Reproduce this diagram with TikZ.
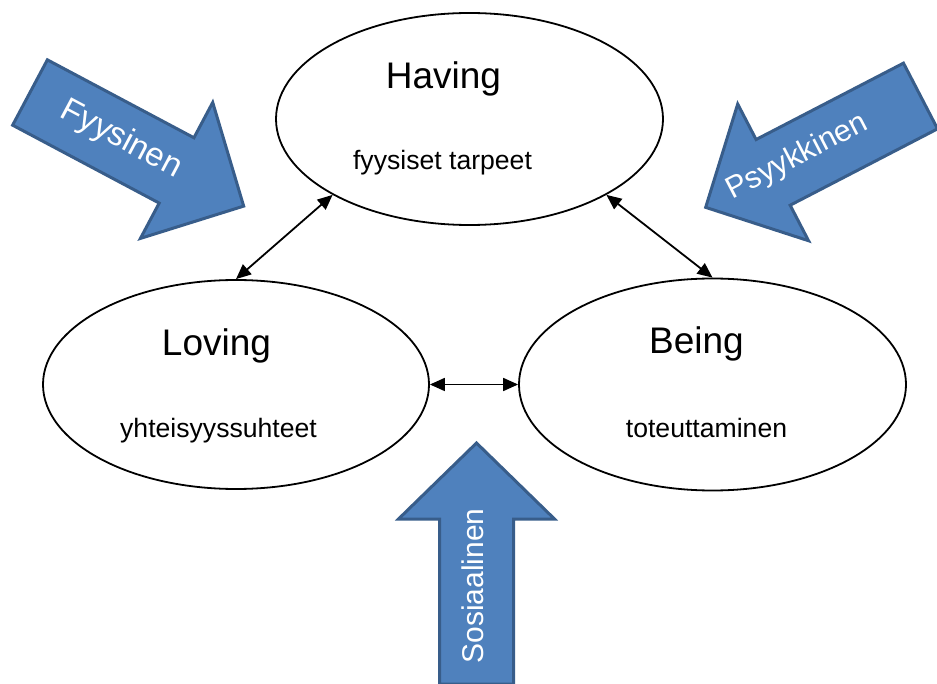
\documentclass[tikz,border=0pt]{standalone}
\usepackage{fontspec}
\setmainfont{Liberation Sans}
\usetikzlibrary{shapes.geometric,arrows.meta}
\definecolor{afill}{HTML}{4F81BD}
\definecolor{aline}{HTML}{385D8A}
\begin{document}
\begin{tikzpicture}[x=1pt,y=-1pt,
  oval/.style={ellipse,draw=black,line width=1.8pt,inner sep=0pt},
  title/.style={anchor=base,inner sep=0pt,font=\fontsize{37}{40}\selectfont},
  sub/.style={anchor=base,inner sep=0pt,font=\fontsize{26.6}{30}\selectfont},
  link/.style={line width=1.8pt,{Triangle[length=15pt,width=13pt]}-{Triangle[length=15pt,width=13pt]}},
  blk/.style={fill=afill,draw=aline,line width=3pt,line join=miter},
  blklabel/.style={text=white,inner sep=0pt,anchor=base}]
\useasboundingbox (0,0) rectangle (937,684);

% ellipses
\node[oval,minimum width=387pt,minimum height=212pt] (H) at (469.5,119) {};
\node[oval,minimum width=386pt,minimum height=209pt] (L) at (236,384.5) {};
\node[oval,minimum width=387pt,minimum height=212pt] (B) at (712.5,384.5) {};

% texts
\node[title] (Ht) at (443.5,89) {Having};
\node[sub] (Hs) at (442.5,170) {fyysiset tarpeet};
\node[title] (Lt) at (216.5,356) {Loving};
\node[sub] (Ls) at (218.5,437) {yhteisyyssuhteet};
\node[title] (Bt) at (696.5,354) {Being};
\node[sub] (Bs) at (706.5,437) {toteuttaminen};

% connectors
\draw[link] (H.209.5) -- (L.north);
\draw[link] (H.-29) -- (B.north);
\draw[link] (L.east) -- (B.west);

% block arrows
\path[blk,shift={(30,92.5)},rotate=-28]
  (0,-37) -- (166,-37) -- (166,-77) -- (242,0) -- (166,77) -- (166,37) -- (0,37) -- cycle;
\path[blk,shift={(920.5,96)},rotate=207.4]
  (0,-37) -- (166,-37) -- (166,-77) -- (242,0) -- (166,77) -- (166,37) -- (0,37) -- cycle;
\path[blk,shift={(476.5,684)},rotate=90]
  (0,-37) -- (165,-37) -- (165,-78) -- (241,0) -- (165,78) -- (165,37) -- (0,37) -- cycle;

\node[blklabel,rotate=-28,font=\fontsize{33}{36}\selectfont] (fy) at (117,147) {Fyysinen};
\node[blklabel,rotate=27.4,font=\fontsize{30.5}{34}\selectfont] (ps) at (801,164) {Psyykkinen};
\node[blklabel,rotate=90,font=\fontsize{30}{33}\selectfont] (so) at (483,586) {Sosiaalinen};
\end{tikzpicture}
\end{document}
